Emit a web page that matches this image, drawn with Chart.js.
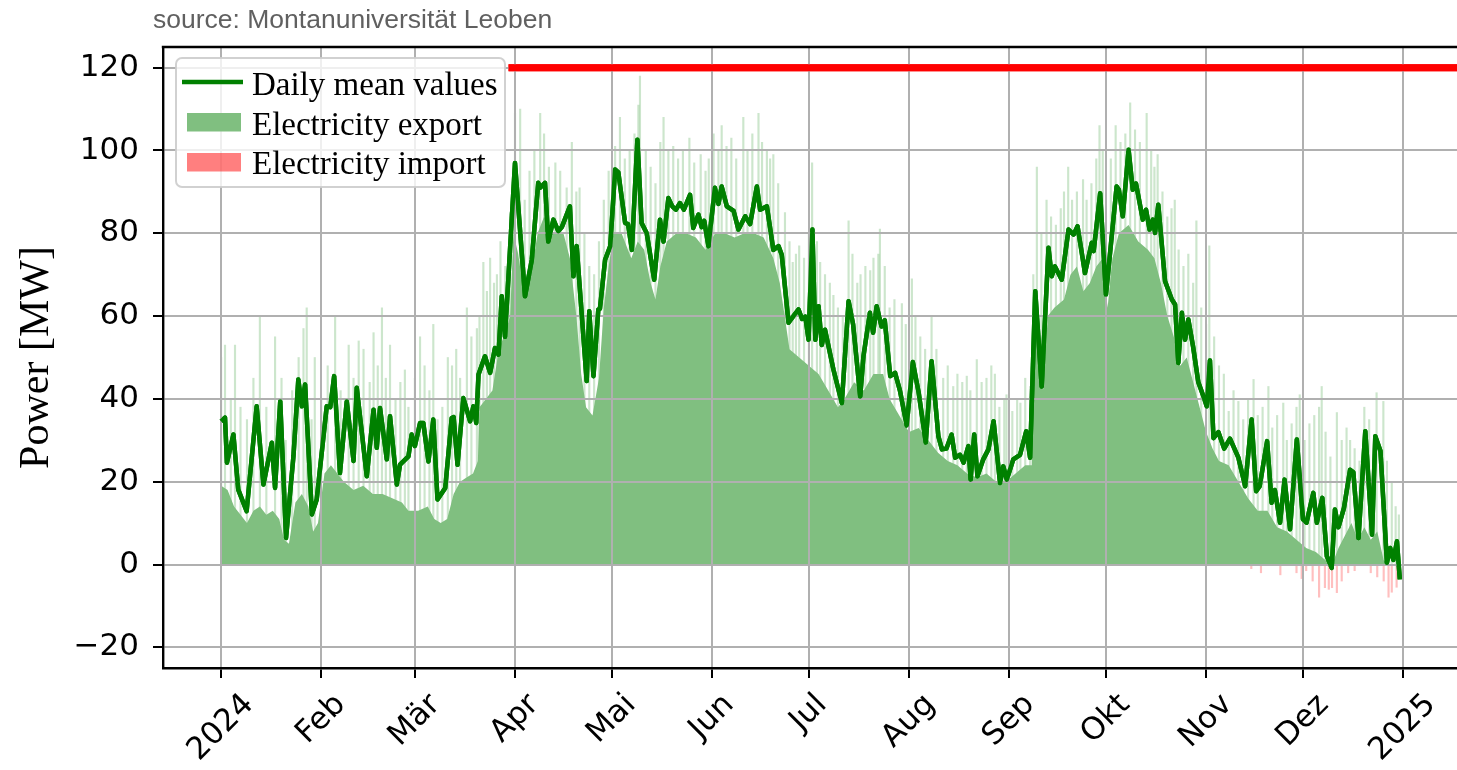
<!DOCTYPE html>
<html lang="de">
<head>
  <meta charset="UTF-8" />
  <title>Power export / import 2024</title>
  <style>
    html, body {
      margin: 0;
      padding: 0;
      background: #fff;
    }
    #wrap {
      position: relative;
      width: 1457px;
      height: 770px;
    }
  </style>
</head>
<body>
  <div id="wrap"><canvas id="powerChart"></canvas></div>

  <script src="https://cdn.jsdelivr.net/npm/chart.js@4.4.1/dist/chart.umd.min.js"></script>
  <script>
    // x values are days since 1 Jan 2024
    const monthTicks = [0, 31, 60, 91, 121, 152, 182, 213, 244, 274, 305, 335, 366];
    const monthLabels = ['2024', 'Feb', 'Mär', 'Apr', 'Mai', 'Jun', 'Jul', 'Aug', 'Sep', 'Okt', 'Nov', 'Dez', '2025'];
    const yTicks = [-20, 0, 20, 40, 60, 80, 100, 120];

    // daily mean values (turning points)
    const meanDays = [0,1.2,1.8,3.8,5.3,7.9,11,13.1,15.7,16.7,
      18.3,20.1,22.4,23.9,25,26,28.1,29.6,32.7,33.8,
      35,36.8,38.9,41,42,45.1,47.2,48.2,49.2,51.3,
      52.3,54.4,55.4,58,59,60,61.6,62.6,64.2,65.7,
      67,69.4,71.4,72,73.2,75,77.1,78.1,79,79.7,
      81.7,83.3,84.8,85.9,86.9,87.9,91,94.1,96.2,98.2,
      98.8,100.3,101.3,102.9,104.4,105.5,108,109.1,110.1,113.2,
      114,115.3,116.8,117.3,118.9,120.5,122,123,125.1,126,
      127.2,128.9,130.2,131.8,134.1,135.9,137,138.5,139.7,140.8,
      142.1,143.3,145.2,146.2,147.8,148.8,149.6,150.9,152.9,154,
      155,156.6,158.7,160.2,162.3,163.8,165.9,166.9,169,171,
      172.6,173.6,175.7,177.2,178.8,179.9,180.9,181.9,183.1,184,
      185,186,187,189.6,192.2,194.3,195.7,197.9,198.9,200.9,
      201.9,203,204.5,205.5,207.2,208.7,210.2,212.3,214.2,216,
      218.2,220,222.1,223.2,224.6,226.2,227.3,228.8,229.9,231.4,
      232.1,233.2,234.2,236,237.6,239.2,241.2,242.2,243.3,245.3,
      247.4,249.3,250.5,252.1,254.1,256.2,257.2,258.2,260.3,262.4,
      264,265.2,267.5,269.6,270.2,272.2,274,277.3,278,279.2,
      281,282.3,283.3,285.4,286.4,287.5,288.5,289.2,290.2,292.3,
      294.4,295.4,296.4,297.5,298.5,299.5,301,302.6,304.2,305.2,
      306.2,307.3,308.8,310.6,312.4,315,317.1,319.1,320.5,321.6,
      323.9,325.3,326.3,327.9,329.3,331,333.1,335,336.1,338.2,
      339.3,341,342.4,343.9,344.9,346,347.7,349.6,350.6,352.2,
      354.3,356.4,357.4,359,361,362,363,364.1,365];
    const meanValues = [34.6,35.5,24.6,31.4,18.1,12.9,38.2,19.3,29.4,18.5,
      39.4,6.4,26.2,44.7,38.2,43.5,12.1,15.7,38.2,38,
      45.5,22.1,39.4,25,42.7,21.3,37.4,28.2,37.8,25.4,
      35.8,19.3,24.1,26.1,31.4,28.6,34.2,34.2,24.9,35,
      15.7,18.5,35.4,35.6,24.1,40.2,34.6,38.2,34.2,45.9,
      50.3,46.3,52.3,50.7,64.8,55,97,64.8,73.6,92.2,
      91,92.2,78,83.3,80.5,81.5,86.5,69.6,76.9,44.3,
      61.2,45.5,61.6,61.8,73.6,76.9,95.4,94.7,82.5,82.2,
      76,102.6,82.5,80,68.8,83.3,78,88.5,86.5,85.7,
      87.3,85.7,89.3,81.3,84.5,81.5,83,76.9,91,87.1,
      91.3,86.5,85.4,80.9,84.1,82.2,91.3,85.7,86.5,76,
      76.9,74.8,58.4,60,61.6,59.3,59.9,54.3,80.9,54.3,
      62.4,53,56.7,47.1,39,63.6,58,40.6,50.3,60.8,
      56,62.4,57.5,59,45.5,46.3,42,33.6,48.9,41.5,
      29.5,49.1,31,27.8,28,31.4,25.8,26.5,24.6,28.6,
      20.5,31.4,21.3,25.4,27.8,34.6,19.7,23.7,20.5,25.4,
      26.5,32.2,25.8,66,43,76.5,69.6,72,68.8,80.9,
      79.7,81.7,70.4,77.7,75.7,89.7,65.2,91.3,90.5,84.1,
      100.2,90.5,92,83.3,85.7,80.9,83.3,80.1,86.9,68.4,
      64,62.8,48.7,60.8,54.3,59.2,52.5,44,40.6,38.2,
      49.3,30.5,32,28,30.4,25.8,18.9,35,17.7,18.9,
      29.8,14.9,18,10.1,20.5,8.5,30.2,10.9,10.1,17.3,
      10.1,16.1,2,-0.8,13.3,9,13.7,22.9,22.3,6.4,
      32.2,7.2,31,27.4,0.4,4,1.1,5.6,-3.6];

    // solid part of the hourly export area
    const exportDays = [0,2,4,6,8,10,12,14,16,18,
      19.5,21,23,25,27,28.5,30,32,34,36,
      38,41,44,47,50,53,56,58,61,64,
      66,68,70,72,74,76,78,79.5,80,82,
      84,86,88,89.5,90.5,92,94,96,98,100,
      103,106,108,110,111.5,113,115,117,118.5,120,
      121.5,124,127,129,131,133,134.5,136,138,141,
      144,147,150,153,156,159,162,165,168,171,
      173,174.5,176,179,182,185,188,191,193,196,
      199,202,205,207,210,213,216,219,222,225,
      228,231,234,237,240,243,246,249,251,251.7,
      253,254.5,256,258,261,263,265,267,269,271,
      273,274.5,276,278,281,284,287,289,291,293,
      295,297,299,301,303,305,307,309,312,315,
      318,321,324,327,330,333,336,339,342,344,
      346,348,350,352,354,356,358,360,362,365];
    const exportValues = [19,18,14,12,10,13,14,12,13,11,
      6,5,15,17,14,8,10,22,24,22,
      20,18,19,17,17,16,15,13,13,14,
      11,10,11,17,20,21,22,25,38,40,
      42,52,56,60,80,75,64,70,80,84,
      80,80,74,60,46,38,36,45,62,72,
      80,80,74,78,76,68,64,72,78,80,
      80,79,76,80,80,79,80,80,79,74,
      68,60,52,50,48,46,42,38,40,44,
      42,46,46,40,36,32,33,30,27,25,
      24,22,21,22,20,20,22,24,24,55,
      58,42,60,62,64,70,72,66,68,72,
      74,62,74,80,82,78,76,74,68,60,
      55,48,50,44,38,32,28,25,24,20,
      16,13,13,9,8,6,4,3,1,0,
      4,7,10,6,9,6,8,1,0,0];

    // hourly peaks showing above the solid area
    const peakDays = [0,1.2,3,4.3,6,8,10,12,14,16.7,18.7,20,22,24,25.5,26.5,28,29,
      31,33,35.3,37,39.5,41,42.6,44.1,46,47.2,48.5,49.8,51,52.3,54,55.5,56.9,58,
      60,61.6,63,64.5,65.7,67,68.5,70.2,71.5,72.8,74,76.1,77.5,79.2,80,81.2,82.3,83.3,84.5,85.4,86.5,88,89.5,
      91,92.6,94,95.5,97,98.8,100,101.5,103.5,105,107,108.6,110,111,112.5,114,115.5,117,118.5,120,
      122,123.5,125,126.5,128,129.2,129.7,131.5,133,134.5,136,137,138.5,140,141.5,143,145,146.5,148.5,150,151,
      152.5,154,155,156.5,158,159.5,161.7,163,164.5,166.4,167.5,169,170,171,172.5,174.6,176,177,178,179,180.5,
      182,183,184.5,185.5,187,188.5,189.6,191,192.5,194.3,195.5,197,198,199.5,201,202,203.5,204,205.5,207,208.5,210.8,212,
      213.9,215,216.5,218,220,221.5,223.6,225,226.7,228,229.5,230.9,232,234,235.5,237,238.5,239.6,241,242.5,243.2,
      245,246.5,247.5,249,250.5,251.5,252.6,254,255.6,257,258.5,260,261,262.3,263.5,265,266.9,268,269.5,271,272,273,
      274,275.5,277,278.5,280,281.5,283,284.5,286.6,288,289,290,291.5,293,294.3,295.3,296.5,298,299.5,301,302,303.5,
      305,306,307.5,309,310.5,312,313.5,315,316.5,318,319.7,321,322.5,324.3,325.5,327,328.9,330,331.5,333,334,
      335.5,337,338.5,340,340.8,342,343.5,345.5,347,348.5,349.6,351,352.5,354,355.5,357.8,359.9,361,362.5,363.7,364.7];
    const peakValues = [50,53,40,53,38,35,45,60,38,55,45,30,42,50,57,62,35,50,
      40,48,60,42,53,45,54,52,44,56,48,62,45,53,40,44,47,38,
      45,55,48,42,58,35,38,50,48,52,45,62,55,57,60,73,66,74,68,70,78,72,85,
      109,110,88,95,100,109,104,96,97,95,91,102,90,91,80,72,70,78,88,95,
      101,108,98,100,104,111,118,100,96,92,102,108,100,101,98,100,103,97,99,95,98,
      104,100,106,101,103,98,108,100,104,109,102,100,98,99,92,85,78,73,75,77,74,
      80,97,78,73,70,68,65,62,60,83,75,68,70,72,71,74,75,81,72,62,64,63,58,
      69,60,55,52,60,52,45,48,43,46,44,45.5,42,49.5,44,45,48,46,38,40,41,
      37,40,39,45,43,70,96,80,88,84,82,86,90,96,88,90,93,88,92,98,106,100,
      85,98,106,102,104,111.5,105,102,109,100,96,99,90,84,86,88,76,72,75,68,83,62,
      58,77,55,48,46,37,42,39.4,35,40,44.7,36,38,43,33,36,39,30,34,38,41,
      30,34,36,38,43,32,26,36.7,30,33,30,28,25,38,35,41.5,39.4,25,20,14,12];

    // hourly import (negative power)
    const importDays = [319,322,328,333,334.6,336,338,340,341.8,343,344,345.5,347,349,351,356,358,360,361.5,362.5,364];
    const importValues = [-1,-2,-2.5,-2,-3.4,-1.5,-4,-7.9,-5.6,-6,-5.6,-6.8,-4,-2,-1.5,-2,-3,-4,-7.9,-6.7,-5.5];

    // red 120 MW line
    const limitDays = [89, 382.7];
    const limitValues = [120, 120];

    const toPoints = (xs, ys) => xs.map((d, i) => ({ x: d, y: ys[i] }));

    const MEAN_COLOR = '#008000';
    const EXPORT_COLOR = '#80bf80';
    const IMPORT_COLOR = 'rgba(255, 0, 0, 0.5)';
    const serif = "'Liberation Serif', 'Times New Roman', serif";
    const TICK_SIZE = 31;

    Chart.defaults.font.family = "'DejaVu Sans', sans-serif";

    // grid is drawn over the area, so the lines, legend and labels go on top afterwards
    const overlayPlugin = {
      id: 'overlay',
      afterDraw(chart) {
        const { ctx, chartArea: a } = chart;
        const xs = chart.scales.x;

        ctx.save();
        ctx.beginPath();
        ctx.rect(a.left, a.top, a.right - a.left, a.bottom - a.top);
        ctx.clip();
        chart.getDatasetMeta(1).controller.draw();
        chart.getDatasetMeta(0).controller.draw();
        ctx.restore();

        // top spine
        ctx.save();
        ctx.strokeStyle = '#000';
        ctx.lineWidth = 2.4;
        ctx.beginPath();
        ctx.moveTo(a.left - 1.2, a.top);
        ctx.lineTo(a.right, a.top);
        ctx.stroke();
        ctx.restore();

        // legend
        const lx = a.left + 13, ly = a.top + 11;
        ctx.save();
        ctx.beginPath();
        ctx.roundRect(lx, ly, 329, 129, 6);
        ctx.fillStyle = 'rgba(255,255,255,0.8)';
        ctx.fill();
        ctx.strokeStyle = 'rgba(204,204,204,0.9)';
        ctx.lineWidth = 2;
        ctx.stroke();

        ctx.strokeStyle = MEAN_COLOR;
        ctx.lineWidth = 4.5;
        ctx.beginPath();
        ctx.moveTo(lx + 6, ly + 24);
        ctx.lineTo(lx + 67, ly + 24);
        ctx.stroke();
        ctx.fillStyle = EXPORT_COLOR;
        ctx.fillRect(lx + 11, ly + 55, 54, 18.5);
        ctx.fillStyle = IMPORT_COLOR;
        ctx.fillRect(lx + 11, ly + 95, 54, 18.5);

        ctx.fillStyle = '#000';
        ctx.font = '33px ' + serif;
        ctx.textAlign = 'left';
        ctx.textBaseline = 'alphabetic';
        const names = [chart.data.datasets[0].label, chart.data.datasets[2].label, chart.data.datasets[4].label];
        [37, 77, 115.5].forEach((b, i) => ctx.fillText(names[i], lx + 76, ly + b));
        ctx.restore();

        // x tick labels, rotated and centred under the tick like matplotlib
        ctx.save();
        ctx.fillStyle = '#000';
        ctx.font = TICK_SIZE + "px 'DejaVu Sans'";
        ctx.textAlign = 'center';
        ctx.textBaseline = 'middle';
        monthTicks.forEach((d, i) => {
          const px = xs.getPixelForValue(d);
          const w = ctx.measureText(monthLabels[i]).width;
          const side = (w + TICK_SIZE) * Math.SQRT1_2;
          ctx.save();
          ctx.translate(px, xs.top + 21 + side / 2);
          ctx.rotate(-Math.PI / 4);
          ctx.fillText(monthLabels[i], 0, 0);
          ctx.restore();
        });
        ctx.restore();

        // source line
        ctx.save();
        ctx.fillStyle = '#606060';
        ctx.font = "26.5px 'Liberation Sans', Arial, sans-serif";
        ctx.textAlign = 'left';
        ctx.textBaseline = 'alphabetic';
        ctx.fillText('source: Montanuniversität Leoben', 153, 28);
        ctx.restore();
      }
    };

    const ctx = document.getElementById('powerChart').getContext('2d');
    new Chart(ctx, {
      type: 'line',
      data: {
        datasets: [
          {
            label: 'Daily mean values',
            data: toPoints(meanDays, meanValues),
            borderColor: MEAN_COLOR,
            borderWidth: 4.5,
            borderJoinStyle: 'round',
            pointRadius: 0,
            tension: 0,
            fill: false
          },
          {
            label: 'limit',
            data: toPoints(limitDays, limitValues),
            borderColor: '#ff0000',
            borderWidth: 7,
            pointRadius: 0,
            fill: false
          },
          {
            label: 'Electricity export',
            data: toPoints(exportDays, exportValues),
            borderWidth: 0,
            borderColor: 'rgba(0,0,0,0)',
            backgroundColor: EXPORT_COLOR,
            pointRadius: 0,
            tension: 0,
            fill: 'origin'
          },
          {
            type: 'bar',
            label: 'peaks',
            data: toPoints(peakDays, peakValues),
            backgroundColor: 'rgba(0, 128, 0, 0.2)',
            barThickness: 1.5,
            grouped: false
          },
          {
            type: 'bar',
            label: 'Electricity import',
            data: toPoints(importDays, importValues),
            backgroundColor: 'rgba(255, 0, 0, 0.25)',
            barThickness: 1.5,
            grouped: false
          }
        ]
      },
      options: {
        responsive: true,
        maintainAspectRatio: false,
        animation: false,
        events: [],
        devicePixelRatio: 1,
        layout: {
          padding: { top: 47, right: 0, bottom: 0, left: 0 }
        },
        scales: {
          x: {
            type: 'linear',
            min: -18,
            max: 382.7,
            offset: false,
            afterBuildTicks: (scale) => {
              scale.ticks = monthTicks.map(v => ({ value: v }));
            },
            afterFit: (scale) => {
              scale.height = 102;
            },
            ticks: { display: false },
            grid: {
              z: 1,
              offset: false,
              color: '#b0b0b0',
              lineWidth: 2,
              tickColor: '#000',
              tickLength: 10,
              tickWidth: 2
            },
            border: { color: '#000', width: 2.4, z: 2 }
          },
          y: {
            min: -25,
            max: 125,
            afterBuildTicks: (scale) => {
              scale.ticks = yTicks.map(v => ({ value: v }));
            },
            afterFit: (scale) => {
              scale.width = 163;
            },
            ticks: {
              color: '#000',
              font: { size: TICK_SIZE },
              padding: 14,
              callback: (v) => (v < 0 ? '\u2212' + Math.abs(v) : String(v))
            },
            grid: {
              z: 1,
              color: '#b0b0b0',
              lineWidth: 2,
              tickColor: '#000',
              tickLength: 10,
              tickWidth: 2
            },
            border: { color: '#000', width: 2.4, z: 2 },
            title: {
              display: true,
              text: 'Power [MW]',
              color: '#000',
              font: { family: serif, size: 42 },
              padding: { top: 12 }
            }
          }
        },
        plugins: {
          legend: { display: false },
          tooltip: { enabled: false }
        }
      },
      plugins: [overlayPlugin]
    });
  </script>
</body>
</html>
